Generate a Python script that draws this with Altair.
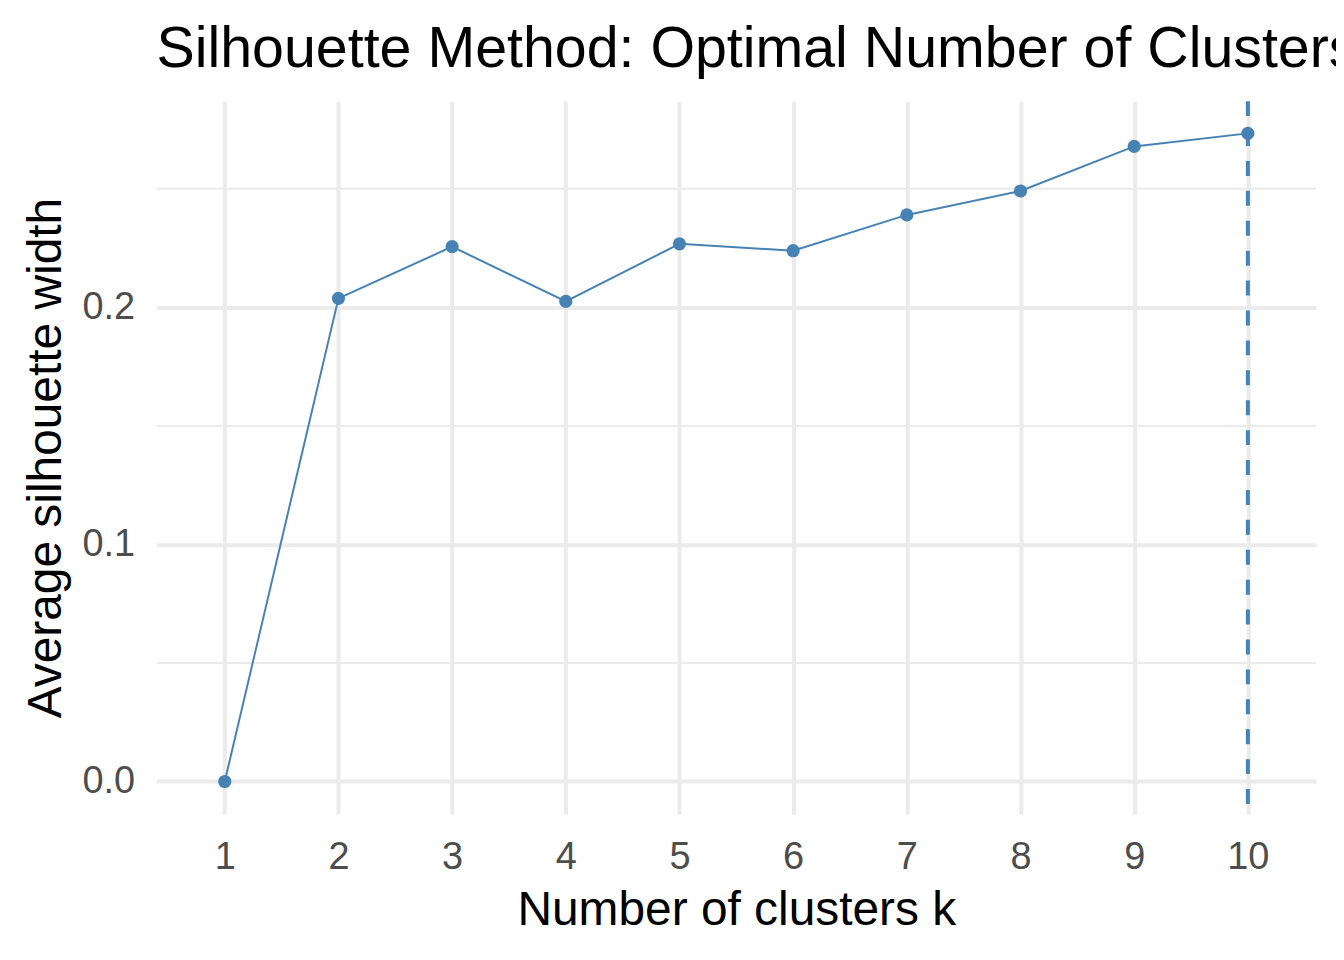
import altair as alt
import pandas as pd

k_values = [1, 2, 3, 4, 5, 6, 7, 8, 9, 10]
silhouette = [0.0, 0.2038, 0.2256, 0.2025, 0.2268, 0.2239, 0.2390, 0.2491, 0.2679, 0.2734]
minor_breaks = [0.05, 0.15, 0.25]
major_breaks = [0.0, 0.1, 0.2]
optimal_k = [10]

df = pd.DataFrame({"k": k_values, "sil": silhouette})
df_minor = pd.DataFrame({"y": minor_breaks})
df_opt = pd.DataFrame({"k": optimal_k})

COLOR = "#4682B4"
GRID = "#EBEBEB"

xscale = alt.Scale(domain=[0.4, 10.6], nice=False, zero=False)
yscale = alt.Scale(domain=[-0.0137, 0.287], nice=False, zero=False)

xaxis = alt.Axis(values=k_values, format="d", title="Number of clusters k", labelPadding=25,
                 titlePadding=10)
yaxis = alt.Axis(values=major_breaks, format=".1f", title="Average silhouette width",
                 labelPadding=22, titlePadding=12)

minor = alt.Chart(df_minor).mark_rule(color=GRID, strokeWidth=2).encode(
    y=alt.Y("y:Q", scale=yscale, axis=yaxis)
)

line = alt.Chart(df).mark_line(color=COLOR, strokeWidth=2).encode(
    x=alt.X("k:Q", scale=xscale, axis=xaxis),
    y=alt.Y("sil:Q", scale=yscale, axis=yaxis),
)
points = alt.Chart(df).mark_circle(color=COLOR, size=175, opacity=1).encode(
    x=alt.X("k:Q", scale=xscale),
    y=alt.Y("sil:Q", scale=yscale),
)
vline = alt.Chart(df_opt).mark_rule(color=COLOR, strokeWidth=4, strokeDash=[15, 15]).encode(
    x=alt.X("k:Q", scale=xscale)
)

chart = alt.layer(minor, line, points, vline).properties(
    width=1163,
    height=715,
    title=alt.TitleParams("Silhouette Method: Optimal Number of Clusters", anchor="start",
                          frame="group", fontSize=57.5, font="Liberation Sans",
                          fontWeight="normal", color="black", offset=20),
    autosize=alt.AutoSizeParams(type="none"),
    padding={"left": 149, "top": 92, "right": 20, "bottom": 130},
).configure_view(stroke=None).configure_axis(
    grid=True, gridColor=GRID, gridWidth=4, domain=False, ticks=False,
    labelFontSize=38, labelColor="#4D4D4D", labelFont="Liberation Sans",
    titleFontSize=48, titleFont="Liberation Sans", titleColor="black",
    titleFontWeight="normal",
)

chart.save("out.html", embed_options={"renderer": "svg", "actions": False})
